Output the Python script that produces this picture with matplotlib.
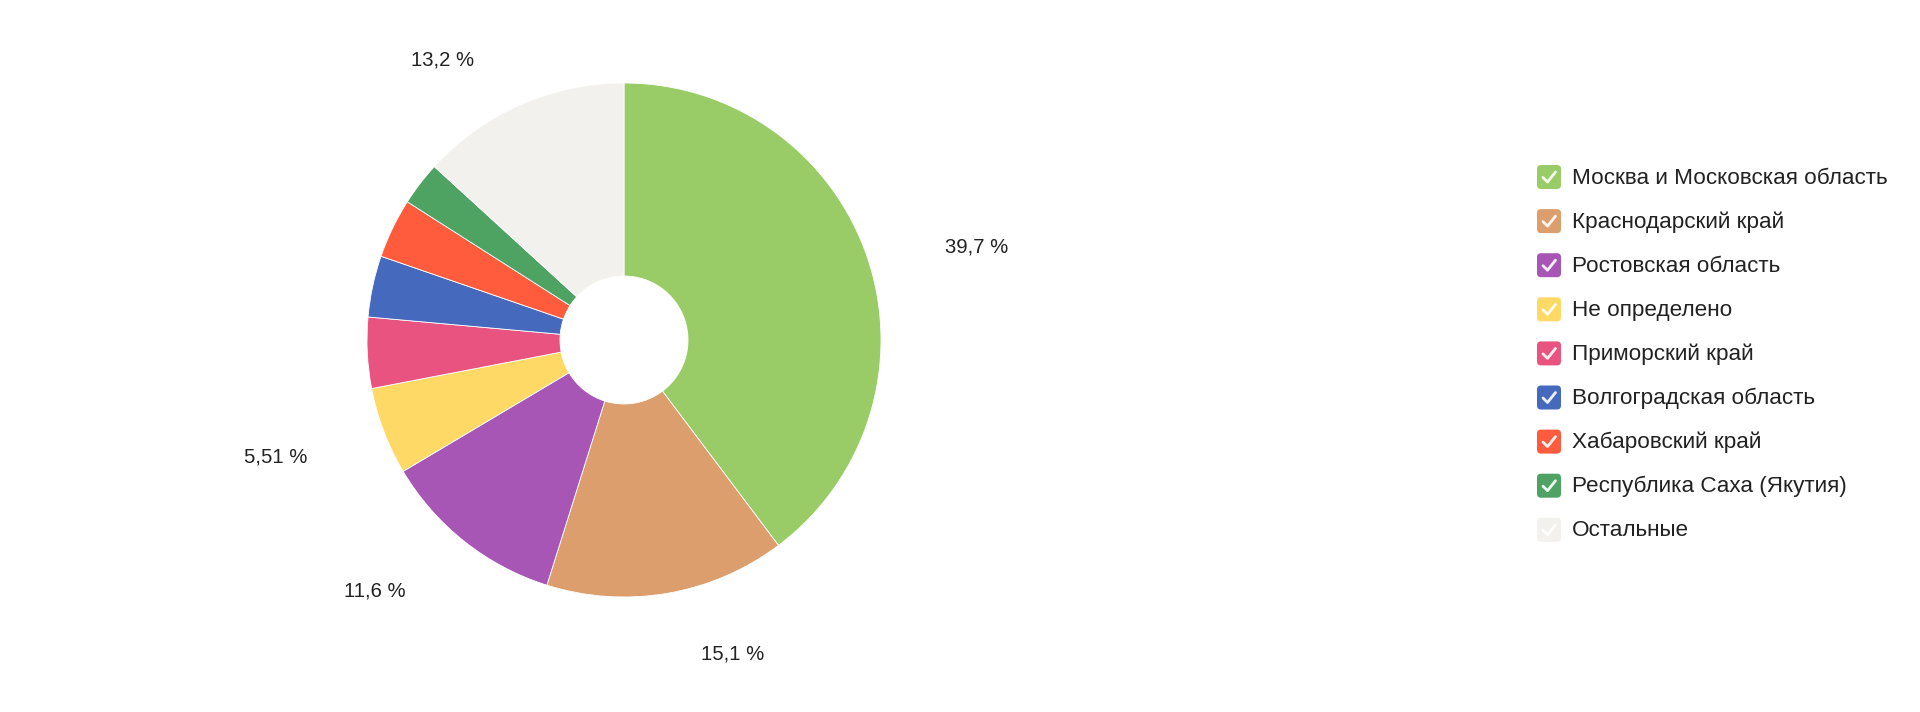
import numpy as np
import matplotlib
matplotlib.use("Agg")
import matplotlib.pyplot as plt
from matplotlib.patches import FancyBboxPatch

plt.rcParams["font.family"] = ["Liberation Sans", "DejaVu Sans"]

# ---------------------------------------------------------------------------
# Data (share of visits by region, %)
# ---------------------------------------------------------------------------
regions = [
    "Москва и Московская область",
    "Краснодарский край",
    "Ростовская область",
    "Не определено",
    "Приморский край",
    "Волгоградская область",
    "Хабаровский край",
    "Республика Саха (Якутия)",
    "Остальные",
]
shares = [39.7, 15.1, 11.6, 5.51, 4.45, 3.85, 3.75, 2.75, 13.2]
colors = ["#99cc66", "#dc9e6c", "#a856b6", "#ffd966", "#e8547f",
          "#4569bd", "#ff5b3d", "#4ea262", "#f2f1ed"]
label_min = 5.0  # slices below this share get no label

W, H = 1920, 712
fig = plt.figure(figsize=(W / 100, H / 100), dpi=100)
fig.patch.set_facecolor("white")

# pie axes: 600x600 px box centred on the pie, radius 257 px
cx, cy, box, R = 624, 340, 600, 257
lim = box / 2 / R
ax = fig.add_axes([(cx - box / 2) / W, 1 - (cy + box / 2) / H, box / W, box / H])
ax.axis("off")

inner = 64 / R
wedges, _ = ax.pie(
    shares, colors=colors, startangle=90, counterclock=False, radius=1.0,
    wedgeprops=dict(width=1 - inner, edgecolor="white", linewidth=0.6),
)
ax.set_xlim(-lim, lim)
ax.set_ylim(-lim, lim)
ax.set_aspect("equal")

# data labels: anchored outside the slice, text edge facing the pie
lab_r, lab_pad, lab_drop = 313 / R, 24 / R, 6 / R
for w, v in zip(wedges, shares):
    if v < label_min:
        continue
    mid = np.deg2rad((w.theta1 + w.theta2) / 2)
    x, y = lab_r * np.cos(mid), lab_r * np.sin(mid) - lab_drop
    right = x >= 0
    x += lab_pad if right else -lab_pad
    txt = f"{v:.3g}".replace(".", ",") + " %"
    ax.text(x, y, txt, ha="left" if right else "right", va="center",
            fontsize=14.6, color="#222222", clip_on=False)

# ---------------------------------------------------------------------------
# Legend with check-box style markers
# ---------------------------------------------------------------------------
lx0, ly0, row_h, sq = 1537, 177, 44.1, 24
lax = fig.add_axes([0, 0, 1, 1])
lax.set_xlim(0, W)
lax.set_ylim(H, 0)
lax.axis("off")
lax.patch.set_alpha(0)

for i, (name, col) in enumerate(zip(regions, colors)):
    yc = ly0 + i * row_h
    lax.add_patch(FancyBboxPatch((lx0 + 2, yc - sq / 2 + 2), sq - 4, sq - 4,
                                 boxstyle="round,pad=2,rounding_size=4",
                                 facecolor=col, edgecolor="none"))
    lax.plot([lx0 + 6, lx0 + 10.5, lx0 + 18.5],
             [yc + 0.5, yc + 5, yc - 5],
             color="white", lw=2, solid_capstyle="round", alpha=0.9)
    lax.text(lx0 + 35, yc + 1, name, ha="left", va="center", fontsize=16.2,
             color="#222222")

fig.savefig("out.png", dpi=100, facecolor="white")
